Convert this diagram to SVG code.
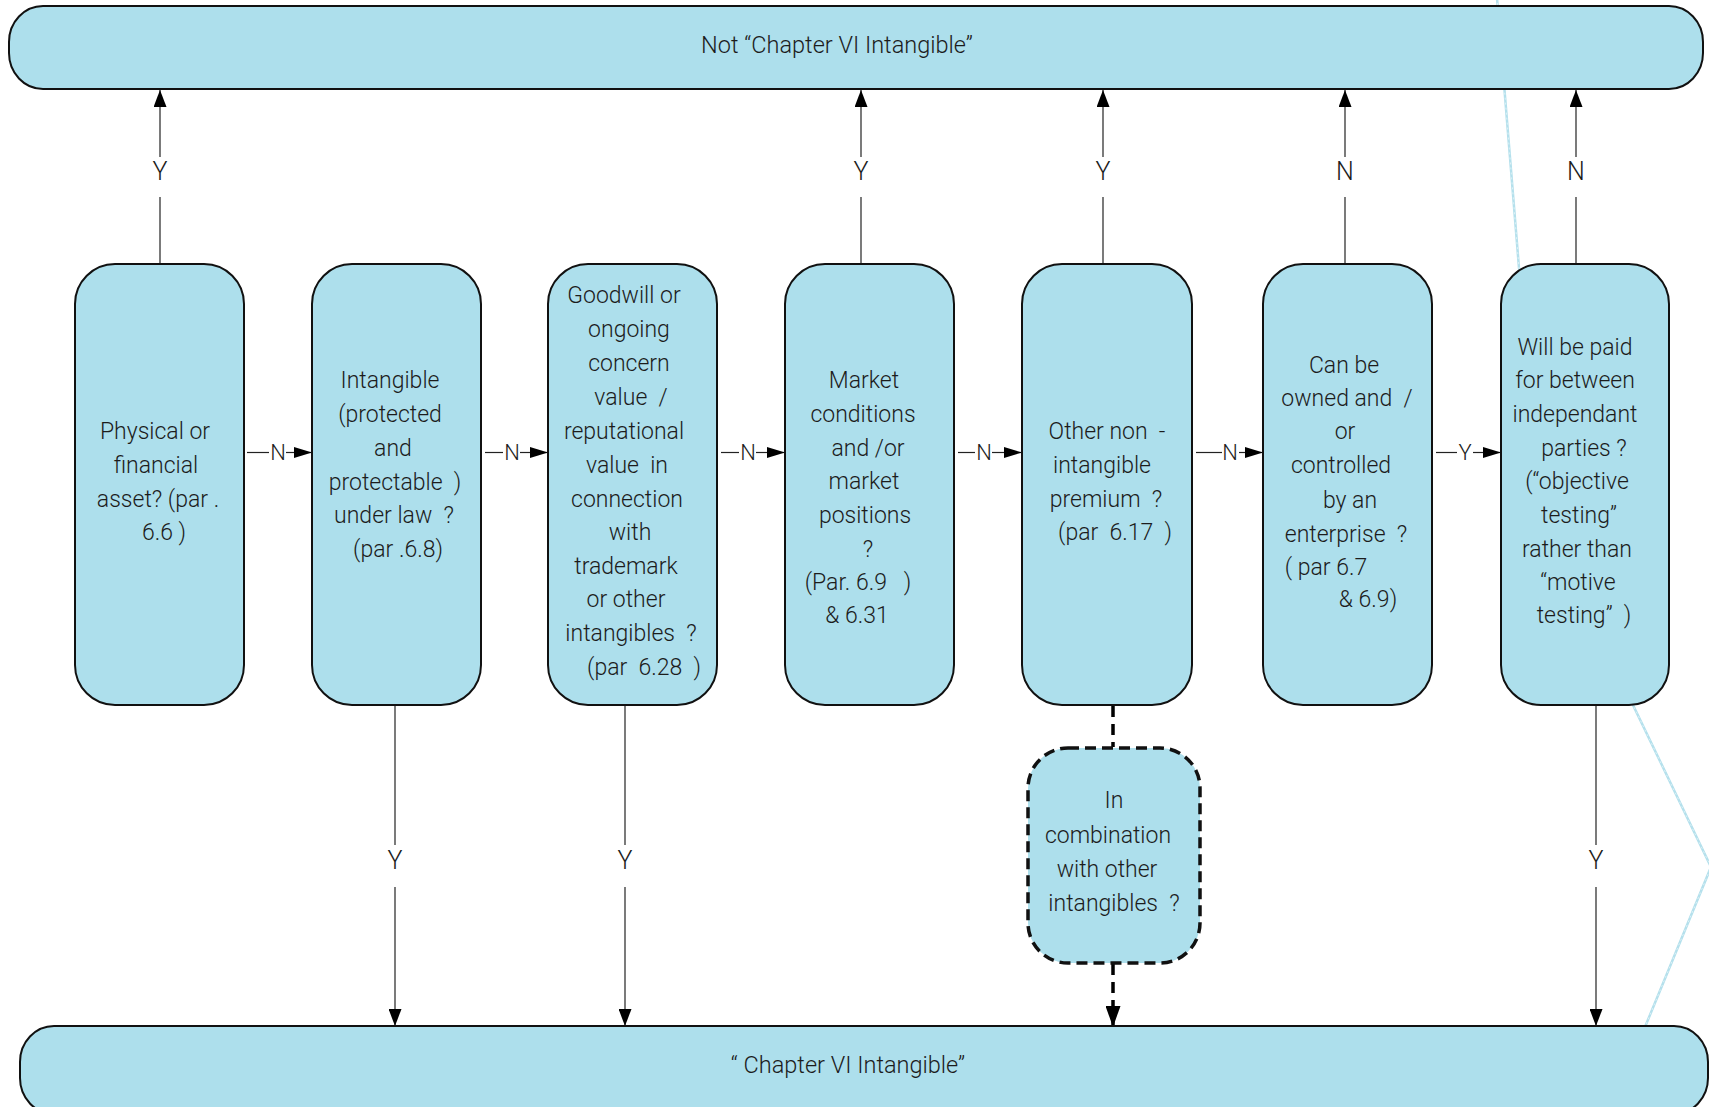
<svg xmlns="http://www.w3.org/2000/svg" width="1709" height="1107" viewBox="0 0 1709 1107">
<defs>
<style>
.bg{fill:#ffffff}
.box{fill:#addfec;stroke:#111;stroke-width:2}
.dbox{fill:#addfec;stroke:#111;stroke-width:3.5;stroke-dasharray:11 6}
.t{font-family:Roboto,"Liberation Sans",sans-serif;font-weight:300;font-size:23px;fill:#1c1c1c;text-anchor:middle;white-space:pre}
.tt{font-family:Roboto,"Liberation Sans",sans-serif;font-weight:300;font-size:23.5px;fill:#1c1c1c;text-anchor:middle;white-space:pre}
.lv{font-family:Roboto,"Liberation Sans",sans-serif;font-weight:300;font-size:25px;fill:#1c1c1c;text-anchor:middle}
.lh{font-family:Roboto,"Liberation Sans",sans-serif;font-weight:300;font-size:22px;fill:#1c1c1c;text-anchor:middle}
.c{fill:none;stroke:#222;stroke-width:1.2}
.cd{fill:none;stroke:#000;stroke-width:3.5;stroke-dasharray:11 7}
.stray{fill:none;stroke:#b4e0ec;stroke-width:2.5}
.stray2{fill:none;stroke:#ffffff;stroke-width:0.8;stroke-dasharray:2 3;opacity:0.7}
</style>
<marker id="av" markerUnits="userSpaceOnUse" markerWidth="17" markerHeight="13" refX="17" refY="6.5" orient="auto"><path d="M0,0 L17,6.5 L0,13 z" fill="#000"/></marker>
<marker id="ah" markerUnits="userSpaceOnUse" markerWidth="18" markerHeight="11" refX="18" refY="5.5" orient="auto"><path d="M0,0 L18,5.5 L0,11 z" fill="#000"/></marker>
<marker id="ad" markerUnits="userSpaceOnUse" markerWidth="21" markerHeight="15" refX="21" refY="7.5" orient="auto"><path d="M0,0 L21,7.5 L0,15 z" fill="#000"/></marker>
</defs>
<rect class="bg" x="0" y="0" width="1709" height="1107"/>
<polyline class="stray" points="1497,-2 1519,268 1633,705 1711,867 1645,1027"/>
<polyline class="stray2" points="1497,-2 1519,268 1633,705 1711,867 1645,1027"/>

<g id="connectors">
  <line class="c" x1="160" y1="264" x2="160" y2="197"/><line class="c" x1="160" y1="157" x2="160" y2="90" marker-end="url(#av)"/><text class="lv" x="160" y="180">Y</text>
  <line class="c" x1="861" y1="264" x2="861" y2="197"/><line class="c" x1="861" y1="157" x2="861" y2="90" marker-end="url(#av)"/><text class="lv" x="861" y="180">Y</text>
  <line class="c" x1="1103" y1="264" x2="1103" y2="197"/><line class="c" x1="1103" y1="157" x2="1103" y2="90" marker-end="url(#av)"/><text class="lv" x="1103" y="180">Y</text>
  <line class="c" x1="1345" y1="264" x2="1345" y2="197"/><line class="c" x1="1345" y1="157" x2="1345" y2="90" marker-end="url(#av)"/><text class="lv" x="1345" y="180">N</text>
  <line class="c" x1="1576" y1="264" x2="1576" y2="197"/><line class="c" x1="1576" y1="157" x2="1576" y2="90" marker-end="url(#av)"/><text class="lv" x="1576" y="180">N</text>
  <line class="c" x1="395" y1="705" x2="395" y2="845"/><line class="c" x1="395" y1="887" x2="395" y2="1026" marker-end="url(#av)"/><text class="lv" x="395" y="869">Y</text>
  <line class="c" x1="625" y1="705" x2="625" y2="845"/><line class="c" x1="625" y1="887" x2="625" y2="1026" marker-end="url(#av)"/><text class="lv" x="625" y="869">Y</text>
  <line class="c" x1="1596" y1="705" x2="1596" y2="845"/><line class="c" x1="1596" y1="887" x2="1596" y2="1026" marker-end="url(#av)"/><text class="lv" x="1596" y="869">Y</text>
  <line class="cd" x1="1113" y1="706" x2="1113" y2="747"/>
  <line class="cd" x1="1113" y1="964" x2="1113" y2="1027" marker-end="url(#ad)"/>
  <line class="c" x1="247" y1="452.5" x2="269" y2="452.5"/><line class="c" x1="286" y1="452.5" x2="312" y2="452.5" marker-end="url(#ah)"/><text class="lh" x="278" y="460">N</text>
  <line class="c" x1="485" y1="452.5" x2="503" y2="452.5"/><line class="c" x1="520" y1="452.5" x2="548" y2="452.5" marker-end="url(#ah)"/><text class="lh" x="512" y="460">N</text>
  <line class="c" x1="721" y1="452.5" x2="739" y2="452.5"/><line class="c" x1="756" y1="452.5" x2="785" y2="452.5" marker-end="url(#ah)"/><text class="lh" x="748" y="460">N</text>
  <line class="c" x1="958" y1="452.5" x2="975" y2="452.5"/><line class="c" x1="992" y1="452.5" x2="1022" y2="452.5" marker-end="url(#ah)"/><text class="lh" x="984" y="460">N</text>
  <line class="c" x1="1196" y1="452.5" x2="1222" y2="452.5"/><line class="c" x1="1239" y1="452.5" x2="1263" y2="452.5" marker-end="url(#ah)"/><text class="lh" x="1230" y="460">N</text>
  <line class="c" x1="1436" y1="452.5" x2="1457" y2="452.5"/><line class="c" x1="1473" y1="452.5" x2="1501" y2="452.5" marker-end="url(#ah)"/><text class="lh" x="1465" y="460">Y</text>
</g>

<g id="not-chapter">
  <rect class="box" x="9" y="6" width="1694" height="83" rx="34" ry="36"/>
  <text class="tt" x="837" y="53">Not “Chapter VI Intangible”</text>
</g>
<g id="chapter">
  <rect class="box" x="20" y="1026" width="1688" height="88" rx="34" ry="36"/>
  <text class="tt" x="848" y="1073">“ Chapter VI Intangible”</text>
</g>

<g id="n1">
  <rect class="box" x="75" y="264" width="169" height="441" rx="40"/>
  <text class="t" x="155" y="439">Physical or</text>
  <text class="t" x="156" y="473">financial</text>
  <text class="t" x="158" y="507">asset? (par .</text>
  <text class="t" x="164" y="540">6.6 )</text>
</g>
<g id="n2">
  <rect class="box" x="312" y="264" width="169" height="441" rx="40"/>
  <text class="t" x="390" y="388">Intangible</text>
  <text class="t" x="390" y="422">(protected</text>
  <text class="t" x="393" y="456">and</text>
  <text class="t" x="395" y="490">protectable  )</text>
  <text class="t" x="394" y="523">under law  ?</text>
  <text class="t" x="398" y="557">(par .6.8)</text>
</g>
<g id="n3">
  <rect class="box" x="548" y="264" width="169" height="441" rx="40"/>
  <text class="t" x="624" y="303">Goodwill or</text>
  <text class="t" x="629" y="337">ongoing</text>
  <text class="t" x="629" y="371">concern</text>
  <text class="t" x="631" y="405">value  /</text>
  <text class="t" x="624" y="439">reputational</text>
  <text class="t" x="627" y="473">value  in</text>
  <text class="t" x="627" y="507">connection</text>
  <text class="t" x="630" y="540">with</text>
  <text class="t" x="626" y="574">trademark</text>
  <text class="t" x="626" y="607">or other</text>
  <text class="t" x="631" y="641">intangibles  ?</text>
  <text class="t" x="644" y="675">(par  6.28  )</text>
</g>
<g id="n4">
  <rect class="box" x="785" y="264" width="169" height="441" rx="40"/>
  <text class="t" x="864" y="388">Market</text>
  <text class="t" x="863" y="422">conditions</text>
  <text class="t" x="868" y="456">and /or</text>
  <text class="t" x="864" y="489">market</text>
  <text class="t" x="865" y="523">positions</text>
  <text class="t" x="868" y="557">?</text>
  <text class="t" x="858" y="590">(Par. 6.9   )</text>
  <text class="t" x="857" y="623">&amp; 6.31</text>
</g>
<g id="n5">
  <rect class="box" x="1022" y="264" width="170" height="441" rx="40"/>
  <text class="t" x="1107" y="439">Other non  -</text>
  <text class="t" x="1102" y="473">intangible</text>
  <text class="t" x="1106" y="507">premium  ?</text>
  <text class="t" x="1115" y="540">(par  6.17  )</text>
</g>
<g id="n6">
  <rect class="box" x="1263" y="264" width="169" height="441" rx="40"/>
  <text class="t" x="1344" y="373">Can be</text>
  <text class="t" x="1347" y="406">owned and  /</text>
  <text class="t" x="1345" y="439">or</text>
  <text class="t" x="1341" y="473">controlled</text>
  <text class="t" x="1350" y="508">by an</text>
  <text class="t" x="1346" y="542">enterprise  ?</text>
  <text class="t" x="1326" y="575">( par 6.7</text>
  <text class="t" x="1368" y="607">&amp; 6.9)</text>
</g>
<g id="n7">
  <rect class="box" x="1501" y="264" width="168" height="441" rx="40"/>
  <text class="t" x="1575" y="355">Will be paid</text>
  <text class="t" x="1575" y="388">for between</text>
  <text class="t" x="1575" y="422">independant</text>
  <text class="t" x="1584" y="456">parties ?</text>
  <text class="t" x="1577" y="489">(“objective</text>
  <text class="t" x="1579" y="523">testing”</text>
  <text class="t" x="1577" y="557">rather than</text>
  <text class="t" x="1578" y="590">“motive</text>
  <text class="t" x="1584" y="623">testing”  )</text>
</g>
<g id="n8">
  <rect class="dbox" x="1028" y="748" width="172" height="215" rx="40"/>
  <text class="t" x="1114" y="808">In</text>
  <text class="t" x="1108" y="843">combination</text>
  <text class="t" x="1107" y="877">with other</text>
  <text class="t" x="1114" y="911">intangibles  ?</text>
</g>
</svg>
